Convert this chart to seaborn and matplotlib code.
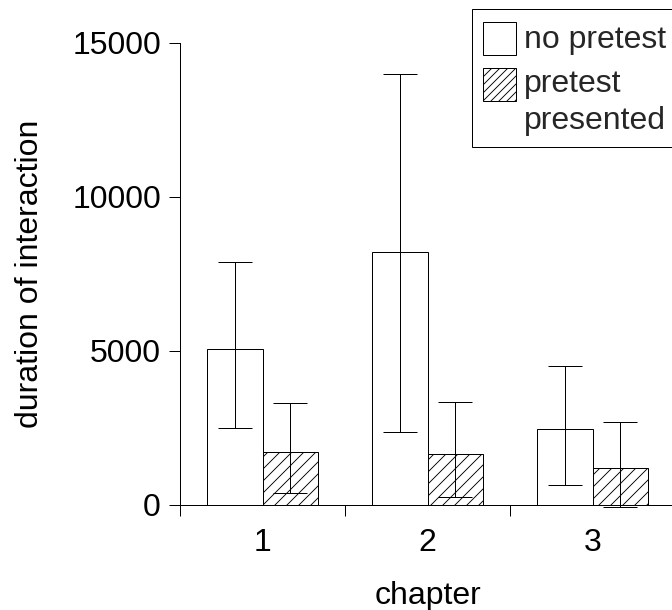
import matplotlib
matplotlib.use("Agg")
import matplotlib.pyplot as plt
import seaborn as sns
import pandas as pd
import numpy as np
from matplotlib.patches import Patch, Rectangle
from matplotlib.legend_handler import HandlerPatch

chapters = ["1", "2", "3"]
conditions = ["no pretest", "pretest\npresented"]
means_no = [5075, 8200, 2455]
means_pre = [1710, 1665, 1190]
upper_no = [7870, 14000, 4510]
lower_no = [2490, 2380, 640]
upper_pre = [3320, 3345, 2695]
lower_pre = [380, 270, -75]

sns.set_theme(style="white")
plt.rcParams['font.family'] = ['Liberation Sans', 'DejaVu Sans']
plt.rcParams['hatch.linewidth'] = 0.9

FS = 32


class ShiftedPatch(HandlerPatch):
    def __init__(self, dy=0.0, **kw):
        super().__init__(**kw)
        self.dy = dy

    def create_artists(self, legend, orig_handle, xdescent, ydescent,
                       width, height, fontsize, trans):
        p = Rectangle((-xdescent, -ydescent + self.dy), width, height)
        self.update_prop(p, orig_handle, legend)
        p.set_transform(trans)
        return [p]


df = pd.DataFrame({
    "chapter": chapters * 2,
    "condition": [conditions[0]] * 3 + [conditions[1]] * 3,
    "duration": means_no + means_pre,
})

fig = plt.figure(figsize=(672 / 72, 610 / 72), dpi=72)
ax = fig.add_axes([180 / 672, 105 / 610, 495 / 672, 462.3 / 610])

sns.barplot(data=df, x="chapter", y="duration", hue="condition",
            order=chapters, hue_order=conditions,
            palette=["white", "white"], edgecolor="black", linewidth=1.0,
            width=0.667, errorbar=None, ax=ax, legend=False, saturation=1)

bars = [p for p in ax.patches]
hi = upper_no + upper_pre
lo = lower_no + lower_pre
mv = means_no + means_pre
for i, p in enumerate(bars[:6]):
    if i >= 3:
        p.set_hatch("//")
    cx = p.get_x() + p.get_width() / 2
    ax.errorbar([cx], [mv[i]], yerr=[[mv[i] - lo[i]], [hi[i] - mv[i]]],
                fmt="none", ecolor="black", elinewidth=1.0, capsize=17,
                capthick=1.0, clip_on=False, zorder=5)

ax.set_xlim(-0.5, 2.5)
ax.set_ylim(0, 15000)
ax.set_yticks([0, 5000, 10000, 15000])
ax.set_xticks([0, 1, 2])
ax.set_xticklabels(chapters)
ax.set_xticks([-0.5, 0.5, 1.5], minor=True)
ax.tick_params(axis="x", which="major", length=0, labelsize=FS, pad=23, colors="black")
ax.tick_params(axis="x", which="minor", length=11, width=1, direction="out", bottom=True, colors="black")
ax.tick_params(axis="y", length=11, width=1, direction="out", left=True, labelsize=FS, pad=8, colors="black")
for s in ["top", "right"]:
    ax.spines[s].set_visible(False)
for s in ["left", "bottom"]:
    ax.spines[s].set_color("black")
    ax.spines[s].set_linewidth(1.0)

ax.set_xlabel("chapter", fontsize=FS, labelpad=23, color="black")
ax.set_ylabel("duration of interaction", fontsize=FS, labelpad=27, color="black")

h1 = Patch(facecolor="white", edgecolor="black", linewidth=1.0)
h2 = Patch(facecolor="white", edgecolor="black", linewidth=1.0, hatch="///")
leg = fig.legend([h1, h2], conditions, loc="upper left",
                 bbox_to_anchor=(471.7 / 672, 1 - 9.3 / 610), borderaxespad=0,
                 fontsize=FS, fancybox=False, edgecolor="black", framealpha=1,
                 handlelength=1.02, handleheight=1.19, handletextpad=0.275,
                 borderpad=0.35, labelspacing=0.456,
                 handler_map={h1: ShiftedPatch(dy=-2.0), h2: ShiftedPatch(dy=19.0)})
leg.get_frame().set_linewidth(1.0)
for t in leg.get_texts():
    t.set_linespacing(1.3)

fig.savefig("out.png", dpi=72)
